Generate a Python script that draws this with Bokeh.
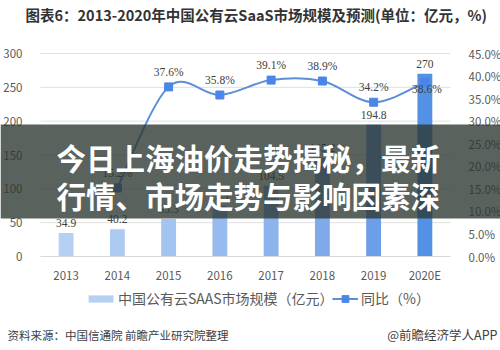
from bokeh.plotting import figure
from bokeh.models import (Range1d, LinearAxis, FixedTicker, ColumnDataSource, LabelSet,
                          Label, BoxAnnotation, Legend, LegendItem)
from bokeh.embed import file_html
from bokeh.resources import INLINE

# ---- data ----
years = ["2013", "2014", "2015", "2016", "2017", "2018", "2019", "2020E"]
market_size = [34.9, 40.2, 55.3, 75.1, 104.5, 145.2, 194.8, 270.0]
growth_years = ["2014", "2015", "2016", "2017", "2018", "2019", "2020E"]
growth_pct = [15.2, 37.6, 35.8, 39.1, 38.9, 34.2, 38.6]
left_ticks = [0, 50, 100, 150, 200, 250, 300]
right_ticks = [0, 5, 10, 15, 20, 25, 30, 35, 40, 45]

title_text = "图表6：2013-2020年中国公有云SaaS市场规模及预测(单位：亿元，%)"
legend_bar = "中国公有云SAAS市场规模（亿元）"
legend_line = "同比（%）"
source_text = "资料来源：中国信通院 前瞻产业研究院整理"
brand_text = "@前瞻经济学人APP"
banner_lines = ["今日上海油价走势揭秘，最新", "行情、市场走势与影响因素深"]

bar_colors = ["#b6d0f4", "#adcaf2", "#a3c3f0", "#97bbee", "#8bb3ec", "#7eaaea", "#6c9fe7", "#5291e3"]

FONT = "Noto Sans CJK SC"
W, H = 500, 350
# plotting area (pixels from top-left of the page)
PL, PR, PT, PB = 40, 450, 53, 256
YMAX, PMAX = 300, 45
ncat = len(years)

# ranges chosen so that the whole canvas is the frame and the axes sit at fixed positions
ux = (PR - PL) / ncat
uy = (PB - PT) / YMAX
up = (PB - PT) / PMAX
x_range = Range1d(-PL / ux, ncat + (W - PR) / ux)
y_range = Range1d(-(H - PB) / uy, YMAX + PT / uy)

def sx(x):
    return x

def sy(y):
    return H - y

xs = [i + 0.5 for i in range(ncat)]
gx = [years.index(y) + 0.5 for y in growth_years]

p = figure(width=W, height=H, output_backend="svg", toolbar_location=None,
           x_range=x_range, y_range=y_range, x_axis_location=None, y_axis_location=None,
           min_border=0, min_border_left=0, min_border_right=0, min_border_top=0,
           min_border_bottom=0)
p.outline_line_color = None
p.background_fill_color = "white"
p.border_fill_color = "white"
p.extra_y_ranges = {"pct": Range1d(-(H - PB) / up, PMAX + PT / up)}
p.grid.visible = False

# axes (fixed at the edges of the plotting area)
ax_b = LinearAxis(ticker=FixedTicker(ticks=xs), fixed_location=0, bounds=(0, ncat))
ax_b.major_label_overrides = {x: y for x, y in zip(xs, years)}
ax_b.axis_line_color = "#d9d9d9"
ax_b.major_label_standoff = 4
p.add_layout(ax_b, "below")

ax_l = LinearAxis(ticker=FixedTicker(ticks=left_ticks), fixed_location=0, bounds=(0, YMAX))
ax_l.axis_line_color = None
ax_l.major_label_standoff = 12
p.add_layout(ax_l, "left")

ax_r = LinearAxis(y_range_name="pct", ticker=FixedTicker(ticks=right_ticks), fixed_location=ncat,
                  bounds=(0, PMAX))
ax_r.axis_line_color = None
ax_r.major_label_standoff = 12
ax_r.major_label_overrides = {t: f"{t:.1f}%" for t in right_ticks}
p.add_layout(ax_r, "right")

for ax in [ax_b, ax_l, ax_r]:
    ax.major_tick_line_color = None
    ax.minor_tick_line_color = None
    ax.major_label_text_font = FONT
    ax.major_label_text_font_size = "11.5px"
    ax.major_label_text_color = "#595959"

# horizontal gridlines across the plotting area at the left-axis ticks
p.segment(x0=[0] * len(left_ticks[1:]), x1=[ncat] * len(left_ticks[1:]),
          y0=left_ticks[1:], y1=left_ticks[1:], line_color="#e0e0e0", line_width=1)

# bars
bsrc = ColumnDataSource(dict(x=xs, top=market_size, color=bar_colors,
                             lab=[f"{v:g}" for v in market_size]))
bars = p.vbar(x="x", top="top", bottom=0, width=0.29, source=bsrc, fill_color="color",
              line_color=None)

# smooth line (Catmull-Rom bezier through the data points)
n = len(gx)
def pt(i):
    i = max(0, min(n - 1, i))
    return gx[i], growth_pct[i]
bz = dict(x0=[], y0=[], x1=[], y1=[], cx0=[], cy0=[], cx1=[], cy1=[])
for i in range(n - 1):
    xa, ya = pt(i - 1); xb, yb = pt(i); xc, yc = pt(i + 1); xd, yd = pt(i + 2)
    bz["x0"].append(xb); bz["y0"].append(yb)
    bz["x1"].append(xc); bz["y1"].append(yc)
    bz["cx0"].append(xb + (xc - xa) / 6); bz["cy0"].append(yb + (yc - ya) / 6)
    bz["cx1"].append(xc - (xd - xb) / 6); bz["cy1"].append(yc - (yd - yb) / 6)
curve = p.bezier(x0="x0", y0="y0", x1="x1", y1="y1", cx0="cx0", cy0="cy0", cx1="cx1", cy1="cy1",
                 source=ColumnDataSource(bz), y_range_name="pct", line_color="#5b8fd8",
                 line_width=2)
lsrc = ColumnDataSource(dict(x=gx, y=growth_pct))
pts = p.scatter(x="x", y="y", source=lsrc, y_range_name="pct", marker="square", size=8,
                fill_color="#4a86e8", line_color="#4a86e8")

# data labels
p.add_layout(LabelSet(x="x", y="top", text="lab", source=bsrc, y_offset=6, text_align="center",
                      text_baseline="bottom", text_font=FONT, text_font_size="11.5px",
                      text_color="#404040"))
pct_main = ColumnDataSource(dict(x=gx[:-1], y=growth_pct[:-1], lab=[f"{v:.1f}%" for v in growth_pct[:-1]]))
pct_last = ColumnDataSource(dict(x=gx[-1:], y=growth_pct[-1:], lab=[f"{v:.1f}%" for v in growth_pct[-1:]]))
p.add_layout(LabelSet(x="x", y="y", text="lab", source=pct_main, y_range_name="pct", y_offset=9,
                      text_align="center", text_baseline="bottom", text_font=FONT,
                      text_font_size="11.5px", text_color="#404040"))
p.add_layout(LabelSet(x="x", y="y", text="lab", source=pct_last, y_range_name="pct", y_offset=-7,
                      x_offset=2, text_align="center", text_baseline="middle", text_font=FONT,
                      text_font_size="11.5px", text_color="#404040"))

# legends (one per series so that each swatch has its own shape)
leg_style = dict(orientation="horizontal", margin=0, padding=0, label_height=20,
                 label_text_font=FONT, label_text_font_size="14px", label_text_color="#595959",
                 border_line_color=None, background_fill_alpha=0)
p.add_layout(Legend(items=[LegendItem(label=legend_bar, renderers=[bars])],
                    location=(sx(85), sy(308)), glyph_width=31, glyph_height=9,
                    label_standoff=2, **leg_style))
p.add_layout(Legend(items=[LegendItem(label=legend_line, renderers=[curve, pts])],
                    location=(sx(332), sy(308)), glyph_width=26, glyph_height=17,
                    label_standoff=3, **leg_style))

# title and footer
p.add_layout(Label(x=sx(25), y=sy(14), x_units="screen", y_units="screen", text=title_text,
                   text_font=FONT, text_font_size="14.5px", text_font_style="bold",
                   text_color="#333333", text_baseline="middle"))
p.add_layout(Label(x=sx(7), y=sy(334), x_units="screen", y_units="screen", text=source_text,
                   text_font=FONT, text_font_size="11.5px", text_color="#404040",
                   text_baseline="middle"))
p.add_layout(Label(x=sx(497), y=sy(334), x_units="screen", y_units="screen", text=brand_text,
                   text_font=FONT, text_font_size="12.5px", text_color="#404040",
                   text_baseline="middle", text_align="right"))

# banner overlay
banner = BoxAnnotation(left=sx(0), right=sx(W), top=sy(124), bottom=sy(218),
                       left_units="screen", right_units="screen", top_units="screen",
                       bottom_units="screen", fill_color="#2c3630", fill_alpha=0.78,
                       line_color=None, level="overlay")
p.add_layout(banner)
for i, t in enumerate(banner_lines):
    p.add_layout(Label(x=sx(56), y=sy(156 + 38 * i), x_units="screen", y_units="screen", text=t,
                       text_font=FONT, text_font_size="29.5px", text_font_style="bold",
                       text_color="white", text_baseline="middle", level="overlay"))

open("out.html", "w").write(file_html(p, INLINE))
